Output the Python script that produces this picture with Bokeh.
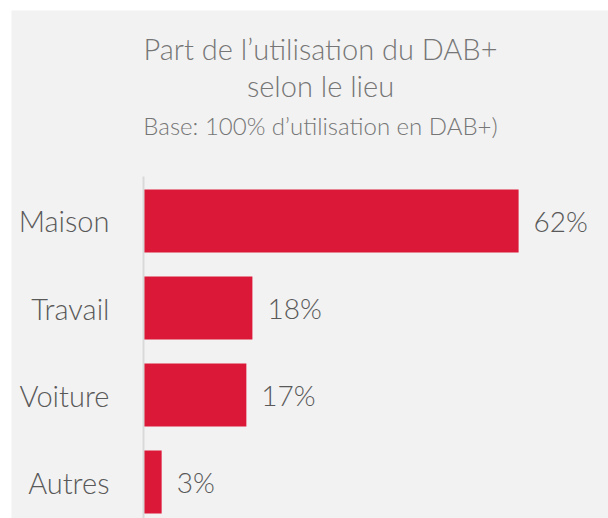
from bokeh.plotting import figure
from bokeh.models import ColumnDataSource, Range1d, FixedTicker, Label
from bokeh.core.properties import value
from bokeh.embed import file_html
from bokeh.resources import INLINE

categories = ["Maison", "Travail", "Voiture", "Autres"]
shares = [62, 18, 17, 3]
share_labels = ["62%", "18%", "17%", "3%"]
title_line1 = "Part de l\u2019utilisation du DAB+"
title_line2 = "selon le lieu"
subtitle = "Base: 100% d\u2019utilisation en DAB+)"

n = len(categories)
ypos = [n - 1 - i for i in range(n)]
src = ColumnDataSource(dict(y=ypos, v=shares, lab=share_labels, cat=categories))

FONT = "Lato Light"
p = figure(width=597, height=508, output_backend="svg", toolbar_location=None,
           x_range=Range1d(-21.82, 76.86), y_range=Range1d(-0.4195, 5.4195),
           min_border_left=0, min_border_right=0, min_border_bottom=0, min_border_top=0,
           background_fill_color="#f2f2f2", border_fill_color="#f2f2f2", outline_line_color=None)
p.margin = (10, 0, 0, 11)
p.title.visible = False

p.hbar(y="y", right="v", left=0, height=0.724, source=src, color="#DC1839", line_color=None)
p.text(x="v", y="y", text="lab", source=src, x_offset=15, text_baseline="middle", text_align="left",
       text_font=value(FONT), text_font_size="28px", text_color="#595959")

p.xaxis.visible = False
p.xgrid.visible = False
p.ygrid.visible = False
yax = p.yaxis[0]
yax.fixed_location = 0
yax.bounds = (-0.4195, 3.511)
yax.ticker = FixedTicker(ticks=ypos)
yax.major_label_overrides = {y: c for y, c in zip(ypos, categories)}
yax.major_tick_line_color = None
yax.minor_tick_line_color = None
yax.axis_line_color = "#d9d9d9"
yax.axis_line_width = 2
yax.major_label_standoff = 28
yax.major_label_text_font = FONT
yax.major_label_text_font_size = "29px"
yax.major_label_text_color = "#595959"

for txt, size, ybase in [(title_line1, "29px", 470), (title_line2, "29px", 433), (subtitle, "24px", 393)]:
    p.add_layout(Label(x=309, y=ybase, x_units="screen", y_units="screen", text=txt,
                       text_align="center", text_baseline="alphabetic", text_font=FONT,
                       text_font_size=size, text_color="#767676"))

open("out.html", "w").write(file_html(p, INLINE))
